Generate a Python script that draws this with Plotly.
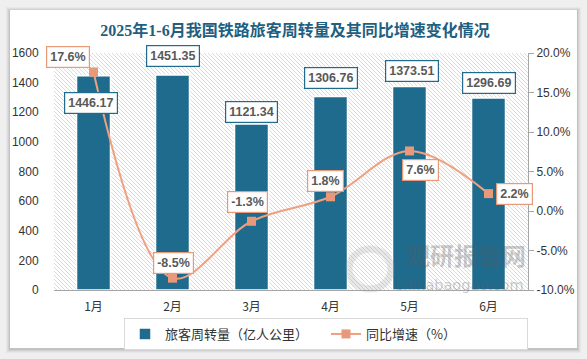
import plotly.graph_objects as go

# ---------------- data ----------------
months = ["1月", "2月", "3月", "4月", "5月", "6月"]
turnover = [1446.17, 1451.35, 1121.34, 1306.76, 1373.51, 1296.69]
growth = [17.6, -8.5, -1.3, 1.8, 7.6, 2.2]
left_ticks = [0, 200, 400, 600, 800, 1000, 1200, 1400, 1600]
right_ticks = [-10, -5, 0, 5, 10, 15, 20]

title = "2025年1-6月我国铁路旅客周转量及其同比增速变化情况"
name_bar = "旅客周转量（亿人公里）"
name_line = "同比增速（%）"

# label offsets (pixels) - style only
bar_lbl_shift = [(-3, -27), (0, 19), (0, 12), (0, 18), (2, 16), (0, 15)]
pct_lbl_shift = [(-26, 15), (1, 15), (-4, 19), (-5, 16), (11, -19), (26, 0)]

W, H = 587, 359
L, T, PW, PH = 54, 53, 474, 237

BAR_C = "#1f6b8e"
LINE_C = "#f0a07e"
MARK_C = "#e8997a"


def px(x):
    return (x - L) / PW


def py(y):
    return 1 - (y - T) / PH


shapes = []
# card shadow + white card
for d, a in [(4, 0.03), (3, 0.04), (2, 0.05), (1, 0.07)]:
    shapes.append(dict(type="rect", xref="paper", yref="paper", layer="below",
                       x0=px(10 - d), x1=px(577 + d), y0=py(10 - d + 1), y1=py(348 + d + 1),
                       fillcolor=f"rgba(0,0,0,{a})", line=dict(width=0)))
shapes.append(dict(type="rect", xref="paper", yref="paper", layer="below",
                   x0=px(10), x1=px(577), y0=py(10), y1=py(348),
                   fillcolor="white", line=dict(width=0)))
# diagonal hatch of the plot area
segs = []
step = 4
c = T - (L + PW)
while c <= T + PH - L:
    xs = max(L, T - c)
    xe = min(L + PW, T + PH - c)
    if xe > xs:
        segs.append(f"M{px(xs):.5f},{py(xs + c):.5f}L{px(xe):.5f},{py(xe + c):.5f}")
    c += step
shapes.append(dict(type="path", xref="paper", yref="paper", layer="below",
                   path="".join(segs), line=dict(color="#d6d6d6", width=0.9)))

fig = go.Figure()
fig.add_trace(go.Bar(
    x=months, y=turnover, name=name_bar, width=0.43,
    marker=dict(color=BAR_C, line=dict(color="white", width=1.5)),
    yaxis="y", hoverinfo="skip",
))
fig.add_trace(go.Scatter(
    x=months, y=growth, name=name_line, yaxis="y2", mode="lines+markers",
    line=dict(color=LINE_C, width=2, shape="spline", smoothing=1.0),
    marker=dict(symbol="square", size=9, color=MARK_C),
    hoverinfo="skip",
))

lbl_font = dict(family="Liberation Sans, Arial", size=12.5, color="#595959")
annos = []
for m, v, (dx, dy) in zip(months, turnover, bar_lbl_shift):
    annos.append(dict(
        x=m, y=v, xref="x", yref="y", text=f"<b>{v:.2f}</b>", showarrow=False,
        xanchor="center", yanchor="middle",
        xshift=dx, yshift=dy, bgcolor="white", bordercolor=BAR_C, borderwidth=1.2,
        borderpad=3, font=lbl_font,
    ))
for m, v, (dx, dy) in zip(months, growth, pct_lbl_shift):
    annos.append(dict(
        x=m, y=v, xref="x", yref="y2", text=f"<b>{v:.1f}%</b>", showarrow=False,
        xanchor="center", yanchor="middle",
        xshift=dx, yshift=dy, bgcolor="white", bordercolor=MARK_C, borderwidth=1.2,
        borderpad=3, font=lbl_font,
    ))
# watermark
annos.append(dict(x=px(466), y=py(254), xref="paper", yref="paper", xanchor="center",
                  yanchor="middle", text="<b>观研报告网</b>", showarrow=False,
                  font=dict(family="Noto Sans CJK SC", size=24, color="rgba(90,90,90,0.33)")))
annos.append(dict(x=px(459), y=py(285), xref="paper", yref="paper", xanchor="center",
                  yanchor="middle", text="chinabaogao.com", showarrow=False,
                  font=dict(family="DejaVu Sans", size=14.5, color="rgba(90,90,90,0.33)")))
shapes.append(dict(type="circle", xref="paper", yref="paper", layer="above",
                   x0=px(349), x1=px(391), y0=py(249), y1=py(289),
                   line=dict(color="rgba(150,150,150,0.22)", width=7)))

fig.update_layout(
    width=W, height=H,
    margin=dict(l=L, r=W - L - PW, t=T, b=H - T - PH, pad=0, autoexpand=False),
    paper_bgcolor="#efefef",
    plot_bgcolor="rgba(0,0,0,0)",
    shapes=shapes,
    title=dict(text=f"<b>{title}</b>", x=295 / W, xanchor="center", y=1 - 30 / H, yanchor="middle",
               font=dict(family="Liberation Serif, Noto Sans CJK SC", size=16, color="#1f5f80")),
    xaxis=dict(type="category", range=[-0.5, len(months) - 0.5], autorange=False,
               showgrid=False, showline=True, linecolor="#a6a6a6", linewidth=1,
               ticks="outside", ticklen=6, tickcolor="rgba(0,0,0,0)", automargin=False,
               tickfont=dict(family="Noto Sans CJK SC", size=12, color="#333333")),
    yaxis=dict(range=[0, 1600], tickvals=left_ticks, showgrid=False, zeroline=False,
               showline=False, ticks="outside", ticklen=12, tickcolor="rgba(0,0,0,0)",
               automargin=False,
               tickfont=dict(family="Liberation Sans, Arial", size=12, color="#333333")),
    yaxis2=dict(range=[-10, 20], tickvals=right_ticks, ticktext=[f"{t:.1f}%" for t in right_ticks],
                overlaying="y", side="right", showgrid=False, zeroline=False, automargin=False,
                showline=True, linecolor="#a6a6a6", linewidth=1, ticks="outside", ticklen=5,
                tickcolor="#a6a6a6",
                tickfont=dict(family="Liberation Sans, Arial", size=12, color="#333333")),
    legend=dict(orientation="h", x=px(124), xanchor="left", y=py(318),
                yanchor="top", bgcolor="white", bordercolor="#d9d9d9", borderwidth=1,
                font=dict(family="Noto Sans CJK SC", size=13, color="#333333"),
                itemwidth=30, entrywidth=156, tracegroupgap=0),
    annotations=annos,
    showlegend=True,
)

fig.write_html("out.html", config={"displayModeBar": False},
               post_script="document.body.style.margin='0';")
